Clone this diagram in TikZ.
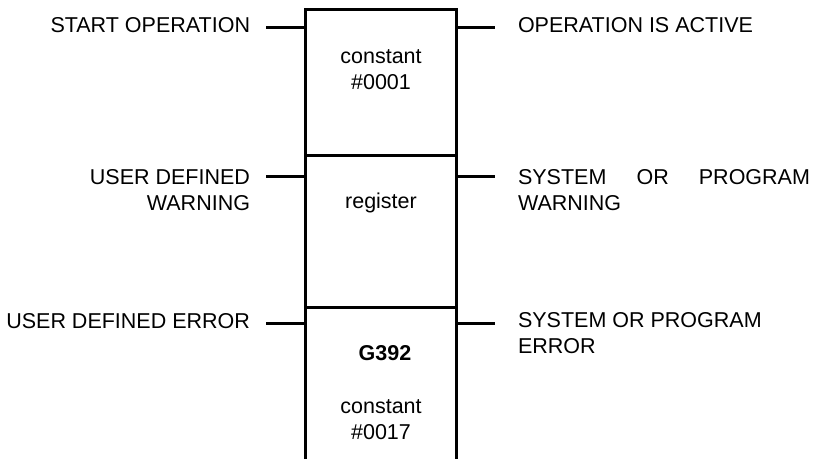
\documentclass[tikz,border=0pt]{standalone}
\usepackage{fontspec}
\setmainfont{Liberation Sans}
\begin{document}
\begin{tikzpicture}[x=1pt,y=-1pt,
  wire/.style={line width=3pt},
  lbl/.style={font=\fontsize{21.5}{26}\selectfont, inner sep=0pt, outer sep=0pt}]
\useasboundingbox (0,0) rectangle (828,459);
% box frame
\coordinate (tl) at (305,9.5);
\coordinate (tr) at (456,9.5);
\coordinate (bl) at (305,459);
\coordinate (br) at (456,459);
\coordinate (d1l) at (305,155.5);
\coordinate (d1r) at (456,155.5);
\coordinate (d2l) at (305,307);
\coordinate (d2r) at (456,307);
\draw[wire, line join=miter] (bl) -- (tl) -- (tr) -- (br);
\draw[wire] (d1l) -- (d1r);
\draw[wire] (d2l) -- (d2r);
% pin coordinates
\coordinate (pl1) at (305,27);  \coordinate (sl1) at (266,27);
\coordinate (pr1) at (456,27);  \coordinate (sr1) at (495,27);
\coordinate (pl2) at (305,176); \coordinate (sl2) at (266,176);
\coordinate (pr2) at (456,176); \coordinate (sr2) at (495,176);
\coordinate (pl3) at (305,323); \coordinate (sl3) at (266,323);
\coordinate (pr3) at (456,323); \coordinate (sr3) at (495,323);
\foreach \i in {1,2,3}{
  \draw[wire] (sl\i) -- (pl\i);
  \draw[wire] (pr\i) -- (sr\i);
}
% labels left (base anchor = last line baseline)
\node[lbl, anchor=base east] (lab1) at (250,32.5) {START OPERATION};
\node[lbl, anchor=base east, align=right] (lab2) at (250,210.5) {USER DEFINED\\WARNING};
\node[lbl, anchor=base east] (lab3) at (250,328.5) {USER DEFINED ERROR};
% labels right
\node[lbl, anchor=base west] (rab1) at (518,32.5) {OPERATION IS ACTIVE};
\node[lbl, anchor=base west, align=left] (rab2) at (518,210.5) {\makebox[292pt][s]{SYSTEM OR PROGRAM}\\WARNING};
\node[lbl, anchor=base west, align=left] (rab3) at (518,353.5) {SYSTEM OR PROGRAM\\ERROR};
% box contents
\node[lbl, anchor=base, align=center] (c1) at (381,89) {constant\\\#0001};
\node[lbl, anchor=base] (c2) at (381,208.5) {register};
\node[lbl, anchor=base, font=\fontsize{21.5}{26}\selectfont\bfseries] (c3) at (385,360) {G392};
\node[lbl, anchor=base, align=center] (c4) at (381,439.5) {constant\\\#0017};
\end{tikzpicture}
\end{document}
